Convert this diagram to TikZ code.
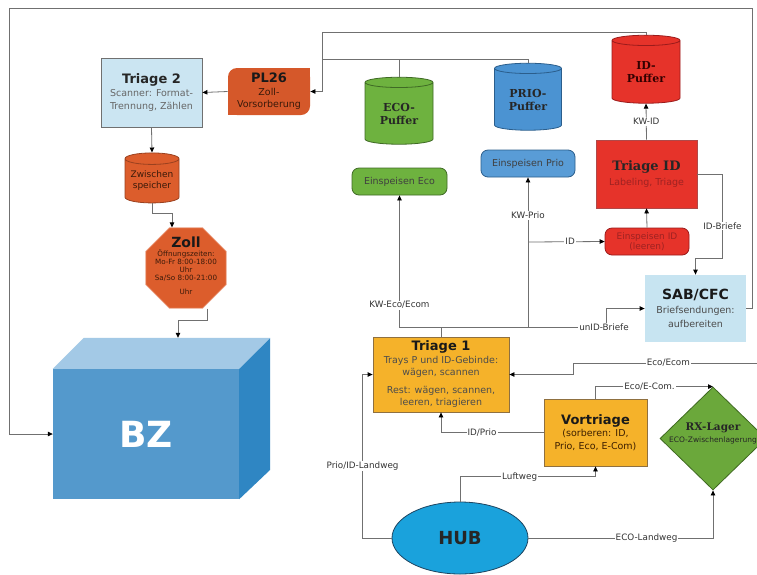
\documentclass[tikz,border=0pt]{standalone}
\usepackage{fontspec}
\setmainfont{DejaVu Sans}
\newfontfamily\serifbf{DejaVu Serif}
\usetikzlibrary{shapes.geometric,arrows.meta,calc}
\definecolor{lc}{HTML}{707070}
\definecolor{lt}{HTML}{333333}
\definecolor{tri2}{HTML}{CBE5F2}
\definecolor{plc}{HTML}{D5582A}
\definecolor{zc}{HTML}{DC5D2C}
\definecolor{ztxt}{HTML}{3A1A0A}
\definecolor{ecoc}{HTML}{6EB23F}
\definecolor{ecod}{HTML}{3F6A25}
\definecolor{prioc}{HTML}{4B93D2}
\definecolor{priod}{HTML}{2B5E8C}
\definecolor{idc}{HTML}{E6332A}
\definecolor{idd}{HTML}{9B1B1B}
\definecolor{idtxt}{HTML}{9E2222}
\definecolor{sabc}{HTML}{C7E4F1}
\definecolor{orc}{HTML}{F5B22A}
\definecolor{ord}{HTML}{8F7040}
\definecolor{rxc}{HTML}{6BA83B}
\definecolor{rxd}{HTML}{3E6820}
\definecolor{hubc}{HTML}{1AA2DC}
\definecolor{hubd}{HTML}{1D4460}
\definecolor{bzf}{HTML}{5499CC}
\definecolor{bzt}{HTML}{A3C9E6}
\definecolor{bzs}{HTML}{2F86C3}
\tikzset{
  line/.style={draw=lc, line width=0.8pt},
  arr/.style={line, -{Triangle[length=5pt,width=4.5pt,color=black]}},
  lbl/.style={fill=white, inner sep=1pt, text=lt, font=\fontsize{8.8}{10}\selectfont},
  box/.style={draw, line width=0.8pt, inner sep=0pt, align=center, font=\fontsize{9.5}{12.5}\selectfont},
  rbox/.style={box, rounded corners=7pt},
  cyl/.style={cylinder, shape border rotate=90, aspect=0.27, draw, line width=0.8pt, inner sep=0pt, align=center},
}
\newcommand{\ttlf}{\bfseries\fontsize{13}{15}\selectfont}
\newcommand{\sttlf}{\serifbf\bfseries\fontsize{13}{15}\selectfont}
\begin{document}
\begin{tikzpicture}[x=1pt,y=-1pt]
\useasboundingbox (0,0) rectangle (757,574);
\fill[white] (0,0) rectangle (757,574);

% ---- nodes ----
\node[box, fill=tri2, draw=lc, minimum width=101pt, minimum height=69pt, text=black!60] (t2) at (151.5,92.5)
  {{\color{black!85}\ttlf Triage 2}\\[1pt] Scanner: Format-\\ Trennung, Zählen};
\node[box, draw=none, fill=plc, rounded corners=9pt, minimum width=82pt, minimum height=47pt, text=ztxt] (pl26) at (269,91.5)
  {{\color{black!90}\ttlf PL26}\\ Zoll-\\ Vorsorberung};
\fill[plc] (pl26.north east) rectangle ++(-10,10);
\fill[plc] (pl26.south west) rectangle ++(10,-10);

\node[cyl, fill=zc, draw=zc!70!black, minimum width=54pt, minimum height=50pt, text=ztxt, font=\fontsize{9}{11}\selectfont] (zw) at (152,181) {Zwischen\\speicher};

\node[regular polygon, regular polygon sides=8, minimum size=87pt, inner sep=0pt, fill=zc, draw=zc!55, line width=0.8pt] (zoll) at (186,268) {};
\node[align=center, text=ztxt, font=\fontsize{7.2}{7.7}\selectfont, inner sep=0pt] (zolltxt) at (186,266)
  {{\color{black!90}\bfseries\fontsize{14}{15}\selectfont Zoll}\\[1.5pt] Öffnungszeiten:\\ Mo-Fr 8:00-18:00\\ Uhr\\ Sa/So 8:00-21:00\\[7pt] Uhr};

\node[minimum width=186pt, minimum height=130pt, inner sep=0pt, fill=bzf, text=white, font=\bfseries\fontsize{36}{36}\selectfont] (bz) at (146,434) {BZ};
\fill[bzt] (bz.north west) -- ++(31,-31) -- ++(186,0) -- (bz.north east) -- cycle;
\fill[bzs] (bz.north east) -- ++(31,-31) -- ++(0,132) -- (bz.south east) -- cycle;

\node[cyl, fill=ecoc, draw=ecod, minimum width=68pt, minimum height=67pt, text=black!85, font=\serifbf\bfseries\fontsize{11}{13}\selectfont] (eco) at (399,113.5) {ECO-\\Puffer};
\node[rbox, fill=ecoc, draw=ecod, minimum width=95pt, minimum height=27pt, text=black!75] (ecoin) at (399.5,181.5) {Einspeisen Eco};

\node[cyl, fill=prioc, draw=priod, minimum width=67pt, minimum height=67pt, text=black!85, font=\serifbf\bfseries\fontsize{11}{13}\selectfont] (prio) at (528,99.5) {PRIO-\\Puffer};
\node[rbox, fill=prioc!92!white, draw=priod, minimum width=94pt, minimum height=27pt, text=black!75] (prioin) at (528,163.5) {Einspeisen Prio};

\node[cyl, fill=idc, draw=idd, minimum width=68pt, minimum height=68pt, text=black!80!red, font=\serifbf\bfseries\fontsize{11}{13}\selectfont] (idp) at (646,72) {ID-\\Puffer};
\node[box, fill=idc, draw=idd!80, minimum width=101pt, minimum height=68pt, text=idtxt] (tid) at (646.5,174)
  {{\color{black!85}\sttlf Triage ID}\\[2pt] Labeling, Triage};
\node[rbox, fill=idc, draw=idd, minimum width=84pt, minimum height=27pt, text=idtxt, font=\fontsize{9}{10.5}\selectfont] (idin) at (647,241.5) {Einspeisen ID\\(leeren)};

\node[box, draw=none, fill=sabc, minimum width=101pt, minimum height=67pt, text=black!70, font=\fontsize{9.5}{14}\selectfont] (sab) at (695.5,308.5)
  {{\color{black!90}\bfseries\fontsize{14}{16}\selectfont SAB/CFC}\\ Briefsendungen:\\ aufbereiten};

\node[box, fill=orc, draw=ord, minimum width=136pt, minimum height=75pt, text=black!70] (t1) at (441,374.5)
  {{\color{black!90}\ttlf Triage 1}\\ Trays P und ID-Gebinde:\\ wägen, scannen\\[5pt] Rest: wägen, scannen,\\ leeren, triagieren};

\node[box, fill=orc, draw=ord, minimum width=103pt, minimum height=67pt, text=black!60!orange!60!black] (vt) at (595.5,432.5)
  {{\color{black!90}\ttlf Vortriage}\\ (sorberen: ID,\\ Prio, Eco, E-Com)};

\node[diamond, fill=rxc, draw=rxd, line width=0.8pt, minimum width=106pt, minimum height=103pt, inner sep=0pt] (rx) at (713,438.5) {};
\node[align=center, inner sep=0pt, text=black!85] (rxtxt) at (713,433)
  {{\serifbf\bfseries\fontsize{10.5}{12}\selectfont RX-Lager}\\ {\fontsize{7.5}{9}\selectfont ECO-Zwischenlagerung}};

\node[ellipse, fill=hubc, draw=hubd, line width=0.8pt, minimum width=136pt, minimum height=72pt, inner sep=0pt, text=black!85, font=\bfseries\fontsize{18}{20}\selectfont] (hub) at (460,538) {HUB};

% ---- connectors ----
\coordinate (jtop) at (322,32);
\coordinate (jmid) at (322,59);
\draw[line] (idp.north) |- (jtop);
\draw[line] (eco.north) |- (jmid);
\draw[line] (prio.north) |- (jmid);
\draw[arr] (jtop) |- (pl26.east);
\draw[arr] (pl26.west) -- (t2.east);
\draw[arr] (t2.south) -- (zw.north);
\draw[arr] (zw.south) -- ++(0,10) -| ([xshift=-14pt]zoll.north);
\draw[arr] ([xshift=21pt]zoll.south) -- ++(0,12) -| ([xshift=32pt,yshift=31pt]bz.north);

\coordinate (fr1) at (752,8);
\coordinate (fr2) at (9,8);
\draw[arr] (sab.east) -| (fr1) -- (fr2) |- (bz.west);

\draw[arr] (tid.north) -- node[lbl]{KW-ID} (idp.south);
\draw[arr] (idin.north) -- (tid.south);
\draw[arr] (tid.east) -- ++(25,0) -- node[lbl, pos=0.62]{ID-Briefe} ++(0,84) -| (sab.north);

\coordinate (tj) at (441,327);
\coordinate (kp) at (528,242);
\coordinate (ub) at (606,327);
\draw[line] (t1.north) -- (tj);
\draw[arr] (tj) -| node[lbl, pos=0.583]{KW-Eco/Ecom} (ecoin.south);
\draw[arr] (tj) -| node[lbl, pos=0.873]{KW-Prio} (prioin.south);
\draw[arr] (kp) -- node[lbl, pos=0.55]{ID} (idin.west);
\draw[arr] (tj) -- (ub) node[lbl, xshift=-2pt]{unID-Briefe} |- (sab.west);

\draw[arr] (hub.west) -- ++(-29,0) |- node[lbl, pos=0.22]{Prio/ID-Landweg} (t1.west);
\coordinate (ee) at (760,363);
\draw[arr] (ee) -- node[lbl, pos=0.49]{Eco/Ecom} ++(-187,0) |- (t1.east);
\draw[arr] (vt.west) -| node[lbl, pos=0.3]{ID/Prio} (t1.south);
\draw[arr] (vt.north) |- node[lbl, pos=0.73]{Eco/E-Com.} (rx.north);
\draw[arr] (hub.north) -- ++(0,-25) -| node[lbl, pos=0.22]{Luftweg} (vt.south);
\draw[arr] (hub.east) -| node[lbl, pos=0.32]{ECO-Landweg} (rx.south);
\end{tikzpicture}
\end{document}
